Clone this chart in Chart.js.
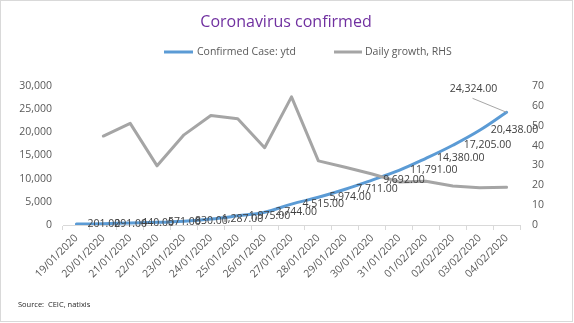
<!DOCTYPE html>
<html><head><meta charset="utf-8">
<script src="https://cdn.jsdelivr.net/npm/chart.js@4.4.1/dist/chart.umd.min.js"></script>
<style>html,body{margin:0;padding:0;background:#fff;}#wrap{width:574px;height:323px;}</style>
</head><body><div id="wrap"><canvas id="c" width="574" height="323"></canvas></div>
<script>
const chartTitle = 'Coronavirus confirmed';
const sourceNote = 'Source:  CEIC, natixis';
const dates = ['19/01/2020','20/01/2020','21/01/2020','22/01/2020','23/01/2020','24/01/2020','25/01/2020','26/01/2020','27/01/2020','28/01/2020','29/01/2020','30/01/2020','31/01/2020','01/02/2020','02/02/2020','03/02/2020','04/02/2020'];
const confirmedCases = [201,291,440,571,830,1287,1975,2744,4515,5974,7711,9692,11791,14380,17205,20438,24324];
const dailyGrowth = [null,44.8,51.2,29.8,45.4,55.1,53.5,38.9,64.5,32.3,29.1,25.7,21.7,22.0,19.6,18.8,19.0];
const seriesNames = ['Confirmed Case: ytd','Daily growth, RHS'];
const leftAxisRange = [0, 30000, 5000];
const rightAxisRange = [0, 70, 10];

const BLUE = '#5B9BD5', GRAY = '#A5A5A5';
const FONT = "'Open Sans', 'Noto Sans', sans-serif";

const decor = {
  id: 'decor',
  beforeDraw(chart) {
    const ctx = chart.ctx;
    ctx.save();
    ctx.fillStyle = '#ffffff';
    ctx.fillRect(0, 0, chart.width, chart.height);
    ctx.strokeStyle = '#D9D9D9';
    ctx.lineWidth = 1;
    ctx.strokeRect(0.5, 0.5, 572, 321);
    ctx.restore();
  },
  afterDatasetsDraw(chart) {
    const ctx = chart.ctx;
    const meta = chart.getDatasetMeta(0);
    const vals = chart.data.datasets[0].data;
    ctx.save();
    ctx.font = "10.5px " + FONT;
    ctx.fillStyle = '#404040';
    ctx.textBaseline = 'middle';
    meta.data.forEach((pt, i) => {
      const txt = vals[i].toLocaleString('en-US', {minimumFractionDigits: 2, maximumFractionDigits: 2});
      if (i === vals.length - 1) {
        ctx.strokeStyle = '#A6A6A6';
        ctx.lineWidth = 1;
        ctx.beginPath();
        ctx.moveTo(pt.x - 34, pt.y - 14);
        ctx.lineTo(pt.x, pt.y);
        ctx.stroke();
        ctx.textAlign = 'center';
        ctx.fillText(txt, pt.x - 33, pt.y - 23);
      } else {
        ctx.textAlign = 'left';
        ctx.fillText(txt, pt.x + 11, pt.y);
      }
    });
    ctx.restore();
  },
  afterDraw(chart) {
    const ctx = chart.ctx;
    ctx.save();
    ctx.textBaseline = 'middle';
    ctx.textAlign = 'center';
    ctx.fillStyle = '#7030A0';
    ctx.font = "16px " + FONT;
    ctx.fillText(chartTitle, 286, 22);
    // legend
    ctx.font = "10.5px " + FONT;
    ctx.fillStyle = '#595959';
    ctx.textAlign = 'left';
    const items = [[164, 193, 197, BLUE], [334, 362, 365, GRAY]];
    items.forEach((it, k) => {
      ctx.strokeStyle = it[3];
      ctx.lineWidth = 3;
      ctx.beginPath();
      ctx.moveTo(it[0], 52);
      ctx.lineTo(it[1], 52);
      ctx.stroke();
      ctx.fillText(seriesNames[k], it[2], 52);
    });
    ctx.font = "7.5px " + FONT;
    ctx.fillStyle = '#262626';
    ctx.fillText(sourceNote, 18, 305);
    ctx.restore();
  }
};

new Chart(document.getElementById('c'), {
  type: 'line',
  data: {
    labels: dates,
    datasets: [
      { label: seriesNames[0], data: confirmedCases, borderColor: BLUE, backgroundColor: BLUE, borderWidth: 3, pointRadius: 0, tension: 0.4, yAxisID: 'y', order: 1, borderCapStyle: 'round' },
      { label: seriesNames[1], data: dailyGrowth, borderColor: GRAY, backgroundColor: GRAY, borderWidth: 3, pointRadius: 0, tension: 0, yAxisID: 'y1', order: 0, borderJoinStyle: 'round', borderCapStyle: 'round' }
    ]
  },
  options: {
    responsive: false,
    animation: false,
    devicePixelRatio: 1,
    layout: { padding: { top: 86, left: 0, right: 0, bottom: 0 } },
    plugins: { legend: { display: false }, title: { display: false }, tooltip: { enabled: false } },
    scales: {
      x: {
        offset: true,
        grid: { display: true, drawOnChartArea: false, offset: true, tickLength: 5, color: '#D9D9D9' },
        border: { display: true, color: '#D9D9D9' },
        ticks: { maxRotation: 45, minRotation: 45, autoSkip: false, padding: 2, color: '#595959', font: { family: FONT, size: 10.5 } },
        afterFit(s) { s.height = 98; }
      },
      y: {
        position: 'left',
        min: leftAxisRange[0], max: leftAxisRange[1],
        grid: { display: false, drawTicks: false },
        border: { display: false },
        ticks: { stepSize: leftAxisRange[2], padding: 11, color: '#595959', font: { family: FONT, size: 10.5 } },
        afterFit(s) { s.width = 63; }
      },
      y1: {
        position: 'right',
        min: rightAxisRange[0], max: rightAxisRange[1],
        grid: { display: false, drawTicks: false },
        border: { display: false },
        ticks: { stepSize: rightAxisRange[2], padding: 12, color: '#595959', font: { family: FONT, size: 10.5 } },
        afterFit(s) { s.width = 54; }
      }
    }
  },
  plugins: [decor]
});
</script></body></html>
